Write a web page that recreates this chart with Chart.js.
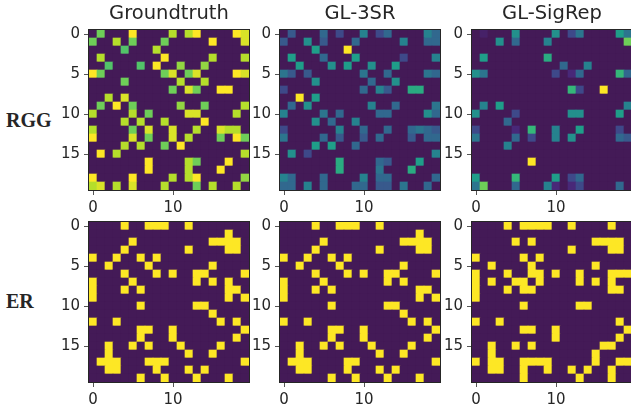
<!DOCTYPE html>
<html>
<head>
<meta charset="utf-8">
<script src="https://cdn.jsdelivr.net/npm/chart.js@4"></script>
<style>
    html, body { margin: 0; padding: 0; background: #fff; }
    body { position: relative; width: 631px; height: 411px; overflow: hidden; }
    canvas { position: absolute; }
    .rowLabel { position: absolute; left: 6px; font: bold 20px "Liberation Serif"; color: #262626; }
</style>
</head>
<body>
<div class="rowLabel" style="top: 109px">RGG</div>
<div class="rowLabel" style="top: 290px">ER</div>
<canvas id="rggTruth" width="240" height="214"></canvas>
<canvas id="rgg3sr" width="240" height="214"></canvas>
<canvas id="rggSigrep" width="240" height="214"></canvas>
<canvas id="erTruth" width="240" height="214"></canvas>
<canvas id="er3sr" width="240" height="214"></canvas>
<canvas id="erSigrep" width="240" height="214"></canvas>
<script>
// Each row maps column -> colour level (0 to 9), missing columns are 0
const rggTruthRows = [
    {1:7, 5:9, 10:8, 12:8, 13:9, 18:9, 19:8.5},
    {0:7, 3:8, 5:7, 9:7, 15:9, 19:8.5},
    {4:6.5, 8:8},
    {1:8, 9:9, 15:8, 19:8},
    {2:6.5, 6:6.5, 8:9, 11:7.5, 14:7.5},
    {0:9, 1:7, 9:7, 10:8.5, 12:7, 13:8.5, 18:9, 19:8.5},
    {4:7, 11:8, 14:8},
    {10:7, 12:8.5, 13:7, 16:9, 17:9},
    {2:8, 4:8.5},
    {1:7, 3:9, 5:7, 11:7.5, 14:7, 19:8},
    {0:8, 5:8, 7:7, 12:8.5, 13:8.5, 18:8},
    {4:8, 6:8, 9:8, 14:9},
    {0:8, 5:7, 7:8.5, 10:8.5, 13:8, 16:8.5, 17:8, 18:8},
    {0:9, 5:8.5, 7:7, 10:8.5, 12:8, 16:7, 18:9, 19:7},
    {4:8, 6:8, 9:7, 11:9},
    {1:9, 3:8, 19:8},
    {7:9, 12:8, 13:7, 17:9},
    {7:9, 12:8, 16:9},
    {0:9, 5:9, 10:8, 12:8, 13:9, 19:7.5},
    {0:8, 1:8.5, 3:8, 5:8.5, 9:8, 13:7, 15:8, 18:8}
];
const rgg3srRows = [
    {1:2.5, 5:3, 7:2, 10:4, 12:2, 13:3, 18:4, 19:3},
    {0:2.5, 3:4.5, 5:2.5, 9:3, 15:4, 18:3, 19:3},
    {4:5, 8:9},
    {1:5, 5:3, 9:5, 15:2, 19:4},
    {2:5, 6:4.5, 8:5, 11:4.5, 14:5},
    {0:3.5, 1:2.5, 3:2.5, 10:3.5, 13:3, 18:3.5, 19:3},
    {4:4.5, 11:3, 14:4.5},
    {0:2, 10:3, 12:4, 13:2.5, 16:5.5, 17:5.5},
    {2:9, 4:5},
    {1:3, 3:4.5, 11:4, 14:3, 19:3.5},
    {0:4, 5:3.5, 7:3, 12:3, 13:3, 18:4.5, 19:3},
    {4:4.5, 6:3, 9:4},
    {0:2, 7:4, 10:3, 13:3, 16:3, 17:3.5, 18:3, 19:2.5},
    {0:3.5, 5:3, 7:2.5, 10:2.5, 12:3, 16:2.5, 18:3, 19:3},
    {4:5, 6:5, 9:3},
    {1:4.5, 3:2, 19:4},
    {7:5.5, 12:3, 13:2.5, 17:5},
    {7:5.5, 12:3.5, 16:5.5},
    {0:4, 1:3, 5:3, 10:4, 12:3, 13:3, 19:3},
    {0:3, 1:3, 3:4, 5:3, 9:3, 10:3, 12:2.5, 13:2.5, 15:3.5, 18:3}
];
const rggSigrepRows = [
    {1:0.5, 5:4.5, 10:4.5, 12:2, 13:3.5, 18:5, 19:3.5},
    {3:4.5, 5:3, 9:4, 19:7},
    {},
    {1:5, 9:5.5},
    {11:3, 14:4},
    {0:4.5, 1:3.5, 10:2, 12:1, 13:3, 18:6, 19:3},
    {},
    {12:6, 13:2, 16:9},
    {},
    {1:4, 3:5, 19:4},
    {0:4.5, 5:2, 12:4.5, 13:4.5, 18:5},
    {4:3},
    {0:2, 5:1, 7:6, 10:4, 13:5, 18:2},
    {0:3.5, 5:3, 7:2, 10:4, 12:4.5, 18:3, 19:2.5},
    {4:4},
    {},
    {7:9},
    {},
    {0:5, 5:6, 10:5, 12:2, 13:3},
    {0:3.5, 1:7, 5:3, 9:4, 10:1, 12:1, 13:2, 18:3}
];

// The ER panels are binary, so a row is just the list of lit columns
const erTruthRows = [
    [4, 7, 8, 9, 12],
    [17],
    [5, 15, 16, 17, 18],
    [4, 12, 17, 18],
    [0, 3, 6, 8],
    [2, 7, 15],
    [4, 8, 10, 13, 14, 19],
    [0, 5, 13, 15, 17],
    [0, 4, 6, 17, 18],
    [0, 17, 19],
    [6, 13, 14],
    [15],
    [0, 3, 16, 18],
    [6, 7, 10, 19],
    [6, 10, 18],
    [2, 5, 7, 11, 16],
    [2, 12, 15],
    [1, 2, 3, 7, 8, 9, 19],
    [2, 3, 8, 12, 14],
    [6, 9, 13, 17]
];
const er3srRows = [
    [4, 7, 8, 9, 12],
    [17],
    [5, 15, 16, 17, 18],
    [4, 12, 17, 18],
    [0, 3, 6, 8],
    [2, 7, 15],
    [4, 8, 10, 13, 14, 19],
    [0, 5, 13, 15],
    [0, 4, 6, 17, 18],
    [0, 17, 19],
    [6, 13, 14],
    [15],
    [0, 3, 16, 18],
    [6, 7, 10, 19],
    [6, 10, 18],
    [2, 5, 7, 11, 16],
    [2, 12, 15],
    [1, 2, 3, 8, 9, 19],
    [2, 3, 8, 12, 14],
    [6, 9, 13, 17]
];
const erSigrepRows = [
    [4, 6, 7, 8, 9, 12, 17],
    [],
    [5, 7, 15, 16, 17, 18],
    [12, 17, 18],
    [0, 6, 8],
    [2, 7, 15],
    [0, 4, 7, 8, 10, 13, 17, 18, 19],
    [0, 2, 5, 6, 8, 13, 15, 17],
    [0, 4, 6, 7, 17, 18],
    [0],
    [6, 13, 14],
    [],
    [0, 3, 18],
    [6, 7, 10, 19],
    [10, 18],
    [2, 5, 7, 16, 17],
    [2, 15],
    [0, 2, 3, 6, 7, 8, 9, 15, 18, 19],
    [2, 3, 6, 9, 12, 14, 17],
    [6, 13, 17]
];

const panelTitles = ['Groundtruth', 'GL-3SR', 'GL-SigRep'];
const xTickValues = [0, 10];
const yTickValues = [0, 5, 10, 15];
const viridisStops = ['#441a57', '#482878', '#3e4989', '#31688e', '#26828e', '#1f9e89', '#35b779', '#6ece58', '#b5de2b', '#fde725'];

const GRID_SIZE = 20;
const PLOT_SIZE = 160;
const SIDE_GUTTER = 40;
const TITLE_SPACE = 28;
const TICK_COLOR = '#262626';
const FONT_FAMILY = '"DejaVu Sans"';

// Interpolates between the viridis stops for a level from 0 to 9
function levelColor(level) {
    const low = Math.floor(level);
    const high = Math.min(low + 1, viridisStops.length - 1);
    const mix = level - low;
    const channels = [1, 3, 5].map(i => {
        const a = parseInt(viridisStops[low].substr(i, 2), 16);
        const b = parseInt(viridisStops[high].substr(i, 2), 16);
        return Math.round(a + (b - a) * mix);
    });
    return `rgb(${channels.join(',')})`;
}

// Turns the rows of a panel into floating bars, one per cell
function buildCells(rows) {
    const cells = [];
    rows.forEach((row, rowIndex) => {
        for (let col = 0; col < GRID_SIZE; col++) {
            let level = 0;
            if (Array.isArray(row)) {
                level = row.includes(col) ? 9 : 0;
            } else if (row[col]) {
                level = row[col];
            }
            cells.push({ x: col, y: [rowIndex - 0.5, rowIndex + 0.5], level: level });
        }
    });
    return cells;
}

// Box around the image, Chart.js only draws the left and bottom borders
const framePlugin = {
    id: 'frame',
    afterDraw(chart) {
        const { ctx, chartArea } = chart;
        ctx.save();
        ctx.strokeStyle = TICK_COLOR;
        ctx.lineWidth = 1;
        ctx.strokeRect(chartArea.left - 0.5, chartArea.top - 0.5, PLOT_SIZE + 1, PLOT_SIZE + 1);
        ctx.restore();
    }
};

function axisOptions(tickValues, reverse, afterFit) {
    return {
        type: 'linear',
        offset: false,
        reverse: reverse,
        min: -0.5,
        max: GRID_SIZE - 0.5,
        afterBuildTicks: scale => { scale.ticks = tickValues.map(v => ({ value: v })); },
        afterFit: afterFit,
        border: { display: false },
        grid: { offset: false, drawOnChartArea: false, drawTicks: true, tickLength: 5, tickColor: '#555', tickWidth: 1 },
        ticks: { autoSkip: false, maxRotation: 0, padding: 4, color: TICK_COLOR, font: { family: FONT_FAMILY, size: 15 } }
    };
}

function renderPanel(id, rows, title, plotLeft, plotTop) {
    const canvas = document.getElementById(id);
    canvas.style.left = (plotLeft - SIDE_GUTTER) + 'px';
    canvas.style.top = (plotTop - TITLE_SPACE) + 'px';

    const titleOptions = title ? {
        display: true,
        text: title,
        color: TICK_COLOR,
        font: { family: FONT_FAMILY, size: 19.5, weight: 'normal', lineHeight: '22px' },
        padding: { top: 1, bottom: TITLE_SPACE - 23 }
    } : { display: false };

    new Chart(canvas.getContext('2d'), {
        type: 'bar',
        data: {
            datasets: [{
                data: buildCells(rows),
                backgroundColor: c => levelColor(c.raw.level),
                borderWidth: 0,
                grouped: false,
                barPercentage: 1,
                categoryPercentage: 1
            }]
        },
        options: {
            responsive: false,
            animation: false,
            layout: { autoPadding: false, padding: { left: 0, right: 0, top: title ? 0 : TITLE_SPACE, bottom: 0 } },
            plugins: {
                legend: { display: false },
                tooltip: { enabled: false },
                title: titleOptions
            },
            scales: {
                x: axisOptions(xTickValues, false, s => { s.height = 26; }),
                y: axisOptions(yTickValues, true, s => { s.width = SIDE_GUTTER; }),
                // Empty axis on the right, it balances the gutter so the title centres over the image
                spacer: {
                    type: 'linear',
                    position: 'right',
                    afterFit: s => { s.width = SIDE_GUTTER; },
                    border: { display: false },
                    grid: { display: false },
                    ticks: { display: false }
                }
            }
        },
        plugins: [framePlugin]
    });
}

renderPanel('rggTruth', rggTruthRows, panelTitles[0], 89, 30);
renderPanel('rgg3sr', rgg3srRows, panelTitles[1], 280, 30);
renderPanel('rggSigrep', rggSigrepRows, panelTitles[2], 472, 30);
renderPanel('erTruth', erTruthRows, '', 89, 222);
renderPanel('er3sr', er3srRows, '', 280, 222);
renderPanel('erSigrep', erSigrepRows, '', 472, 222);
</script>
</body>
</html>
